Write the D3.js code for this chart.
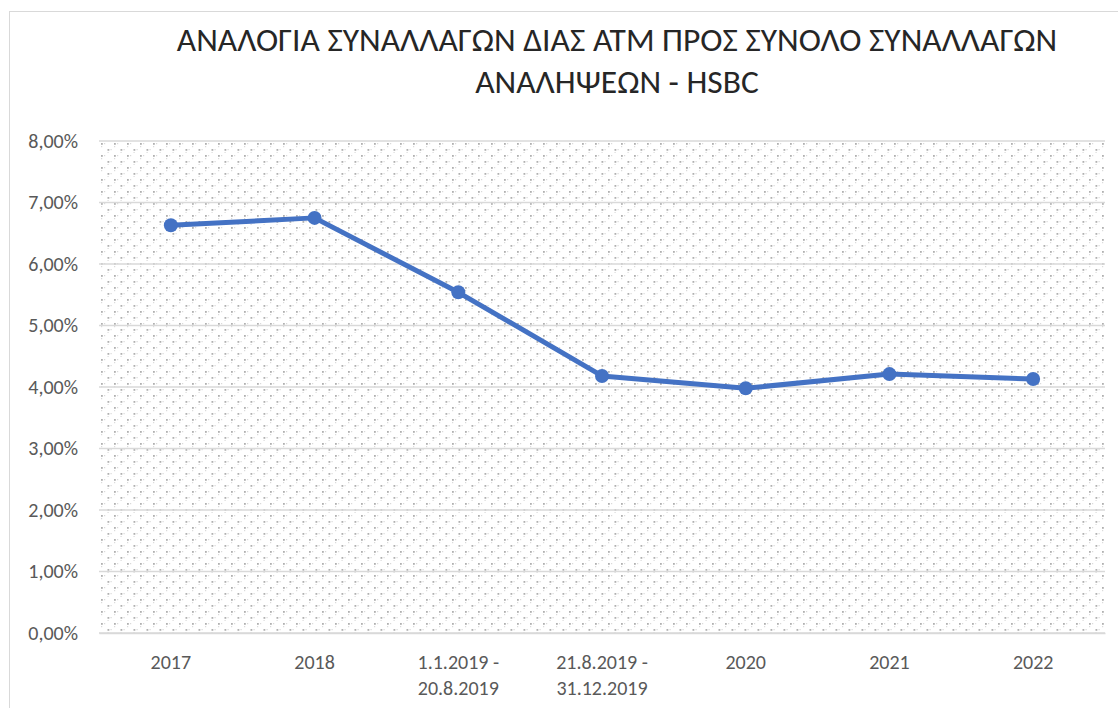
<!DOCTYPE html>
<html><head><meta charset="utf-8">
<script src="https://cdn.jsdelivr.net/npm/d3@7"></script>
<style>body{margin:0;background:#fff}svg{display:block}</style>
</head><body>
<svg id="c" width="1118" height="708"></svg>
<script>
const categories = ["2017","2018","1.1.2019 -|20.8.2019","21.8.2019 -|31.12.2019","2020","2021","2022"];
const values = [0.0663, 0.0675, 0.0554, 0.0418, 0.0398, 0.0421, 0.0413];
const yTicks = [0,0.01,0.02,0.03,0.04,0.05,0.06,0.07,0.08];
const titleLines = ["ΑΝΑΛΟΓΙΑ ΣΥΝΑΛΛΑΓΩΝ ΔΙΑΣ ΑΤΜ ΠΡΟΣ ΣΥΝΟΛΟ ΣΥΝΑΛΛΑΓΩΝ","ΑΝΑΛΗΨΕΩΝ - HSBC"];

const svg = d3.select("#c");
const font = "Carlito, 'Open Sans', 'Noto Sans', sans-serif";
const m = {l:99, r:1105, t:141, b:633};

svg.append("rect").attr("x",9.5).attr("y",11.5).attr("width",1130).attr("height",720)
  .attr("fill","#fff").attr("stroke","#d9d9d9").attr("stroke-width",1);

const defs = svg.append("defs");
const pat = defs.append("pattern").attr("id","dots").attr("patternUnits","userSpaceOnUse")
  .attr("width",13).attr("height",12).attr("x",m.l).attr("y",m.t);
pat.append("rect").attr("width",13).attr("height",12).attr("fill","#fff");
[[2,2],[8.5,8]].forEach(([x,y])=>{
  pat.append("rect").attr("x",x).attr("y",y).attr("width",1.8).attr("height",1.8).attr("fill","#b0b0b0");
});
[[5,2],[11.5,8],[2,5],[8.5,11]].forEach(([x,y])=>{
  pat.append("rect").attr("x",x).attr("y",y).attr("width",1.2).attr("height",1.2).attr("fill","#dadada");
});

const x = d3.scaleBand().domain(categories).range([m.l,m.r]);
const y = d3.scaleLinear().domain([0,0.08]).range([m.b,m.t]);

svg.append("rect").attr("x",m.l).attr("y",m.t).attr("width",m.r-m.l).attr("height",m.b-m.t)
  .attr("fill","url(#dots)");

svg.append("g").selectAll("line").data(yTicks).join("line")
  .attr("x1",m.l).attr("x2",m.r).attr("y1",d=>y(d)).attr("y2",d=>y(d))
  .attr("stroke","#d9d9d9").attr("stroke-width",1.5);

const fmt = d => d3.format(".2f")(d*100).replace(".",",")+"%";
const yAxis = svg.append("g").attr("transform",`translate(${m.l},0)`)
  .call(d3.axisLeft(y).tickValues(yTicks).tickFormat(fmt).tickSize(0).tickPadding(21));
yAxis.select(".domain").remove();
yAxis.selectAll("text").attr("font-family",font).attr("font-size",20).attr("fill","#595959");

const xAxis = svg.append("g").attr("transform",`translate(0,${m.b})`)
  .call(d3.axisBottom(x).tickSize(0).tickFormat(""));
xAxis.select(".domain").attr("stroke","#d9d9d9").attr("stroke-width",1.5);
xAxis.selectAll(".tick").each(function(d){
  const t = d3.select(this).append("text").attr("font-family",font).attr("font-size",20)
    .attr("fill","#595959").attr("text-anchor","middle");
  d.split("|").forEach((s,i)=>t.append("tspan").attr("x",0).attr("y",36+i*26).text(s));
});

const line = d3.line().x((d,i)=>x(categories[i])+x.bandwidth()/2).y(d=>y(d));
svg.append("path").datum(values).attr("d",line).attr("fill","none")
  .attr("stroke","#4472C4").attr("stroke-width",5).attr("stroke-linejoin","round");
svg.append("g").selectAll("circle").data(values).join("circle")
  .attr("cx",(d,i)=>x(categories[i])+x.bandwidth()/2).attr("cy",d=>y(d)).attr("r",7)
  .attr("fill","#4472C4");

const tt = svg.append("text").attr("font-family",font).attr("font-size",33.5).attr("fill","#262626")
  .attr("text-anchor","middle");
titleLines.forEach((s,i)=>tt.append("tspan").attr("x",617).attr("y",51+i*42).text(s));
</script>
</body></html>
